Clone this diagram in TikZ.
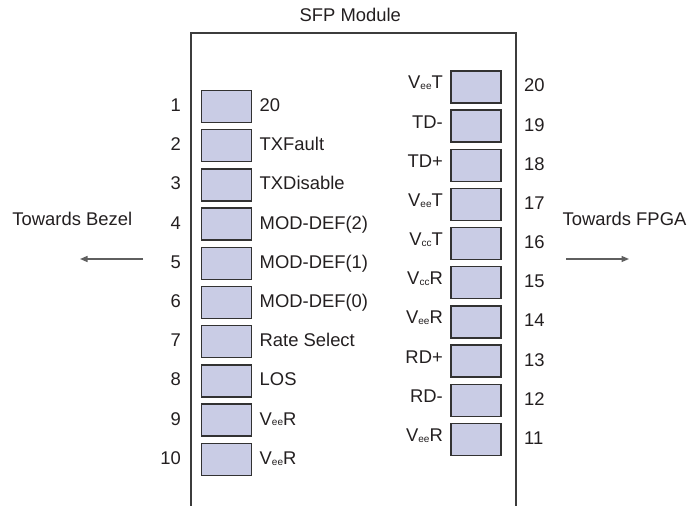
\documentclass[tikz,border=0pt]{standalone}
\usepackage{fontspec}
\setmainfont{Liberation Sans}
\usetikzlibrary{arrows.meta}
\definecolor{pinfill}{RGB}{201,204,229}
\definecolor{pinedge}{RGB}{50,50,50}
\definecolor{ink}{RGB}{35,31,32}
\definecolor{arrowgray}{RGB}{95,95,95}
\definecolor{modedge}{RGB}{60,60,60}
\newcommand{\mysub}[1]{\raisebox{-0.8pt}{\fontsize{10}{10}\selectfont #1}}
\begin{document}
\begin{tikzpicture}[x=1pt,y=-1pt,
  font=\fontsize{18.4}{21}\selectfont, text=ink,
  pinbox/.style={draw=pinedge, fill=pinfill, line width=1.4pt,
    minimum width=50pt, minimum height=32pt, inner sep=0pt},
  lbl/.style={inner sep=0pt, text=ink},
  dirarrow/.style={draw=arrowgray, line width=1.3pt,
    -{Triangle[length=7.5pt,width=6pt]}}]
\useasboundingbox (0,0) rectangle (692,505);
% module outline (open at the bottom)
\coordinate (mbl) at (191,506);
\coordinate (mtl) at (191,33);
\coordinate (mtr) at (516,33);
\coordinate (mbr) at (516,506);
\draw[modedge, line width=1.1pt] (mbl) -- (mtl) -- (mtr) -- (mbr);
\node[lbl, anchor=base] (title) at (350.3,21.7) {SFP Module};
% left column: pins 1..10
\foreach \i/\t in {1/20, 2/TXFault, 3/TXDisable, 4/MOD-DEF(2), 5/MOD-DEF(1),
    6/MOD-DEF(0), 7/Rate Select, 8/LOS, 9/V\mysub{ee}R, 10/V\mysub{ee}R} {
  \node[pinbox] (L\i) at (226.5,{106.5+39.2*(\i-1)}) {};
  \node[lbl, anchor=base east] (Ln\i) at (181,{111.5+39.2*(\i-1)}) {\i};
  \node[lbl, anchor=base west] (Lt\i) at (259.5,{111.5+39.2*(\i-1)}) {\t};
}
% right column: pins 20..11
\foreach \k/\t in {20/V\mysub{ee}T, 19/TD-, 18/TD+, 17/V\mysub{ee}T, 16/V\mysub{cc}T,
    15/V\mysub{cc}R, 14/V\mysub{ee}R, 13/RD+, 12/RD-, 11/V\mysub{ee}R} {
  \node[pinbox] (R\k) at (476,{87+39.15*(20-\k)}) {};
  \node[lbl, anchor=base west] (Rn\k) at (524,{92+39.15*(20-\k)}) {\k};
  \node[lbl, anchor=base east] (Rt\k) at (443,{89+39.15*(20-\k)}) {\t};
}
% direction hints
\node[lbl, anchor=base] (bezel) at (72.3,225) {Towards Bezel};
\node[lbl, anchor=base] (fpga) at (624.5,225) {Towards FPGA};
\coordinate (bzs) at (143,259);
\coordinate (bze) at (80,259);
\coordinate (fps) at (566,259);
\coordinate (fpe) at (629,259);
\draw[dirarrow] (bzs) -- (bze);
\draw[dirarrow] (fps) -- (fpe);
\end{tikzpicture}
\end{document}
